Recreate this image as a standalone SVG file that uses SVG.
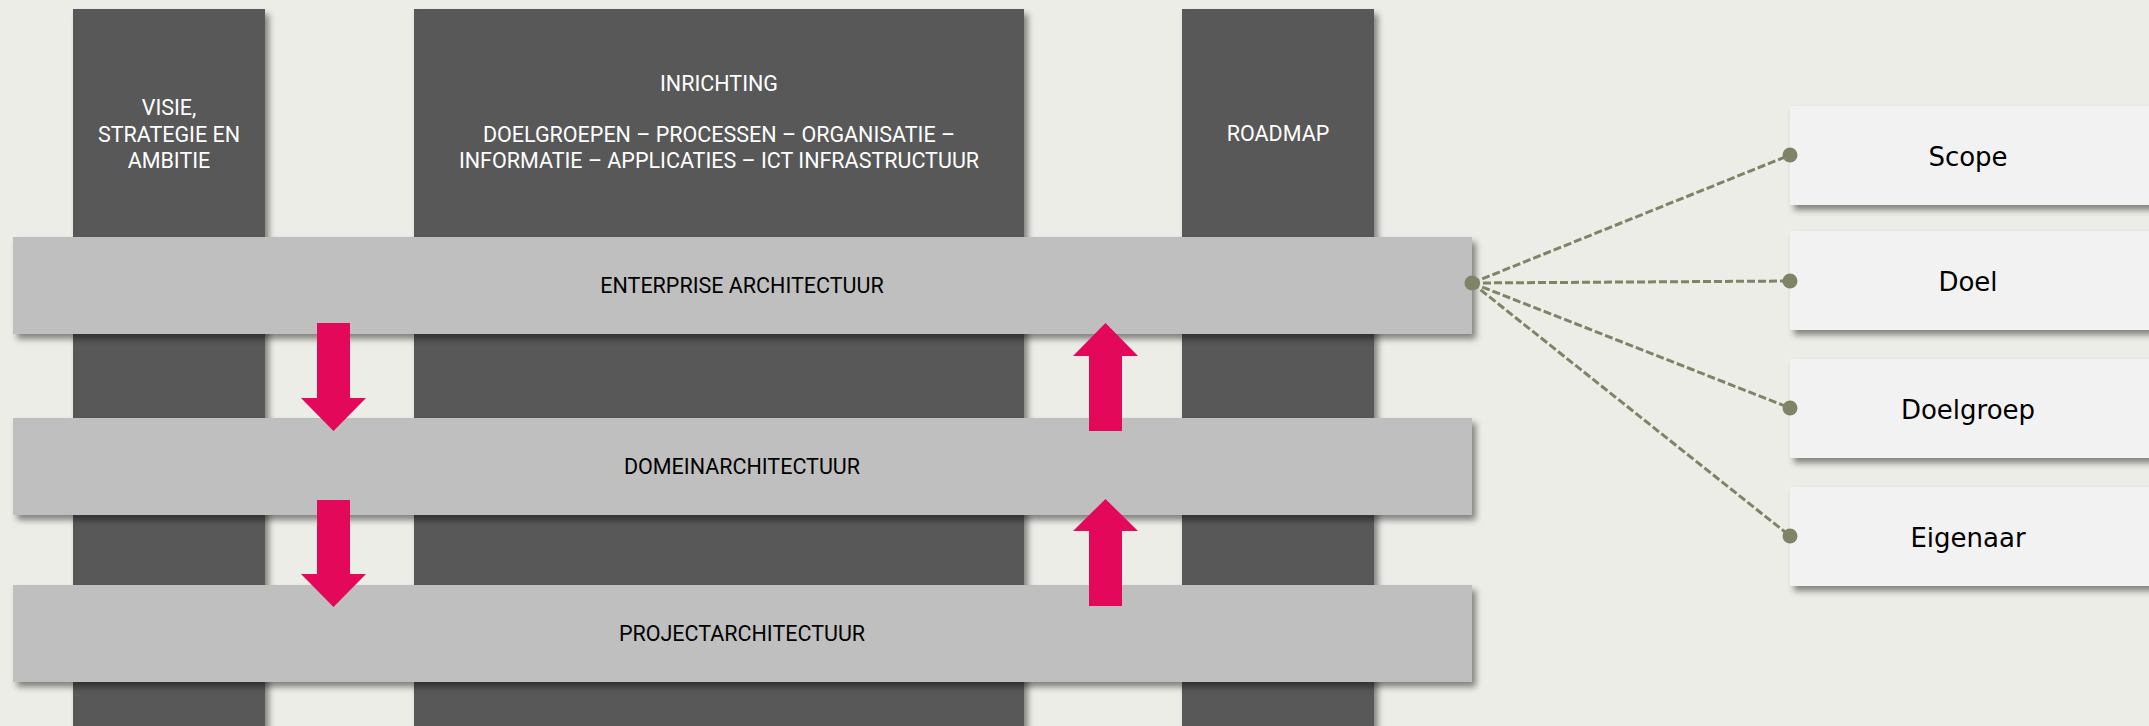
<svg xmlns="http://www.w3.org/2000/svg" width="2149" height="726" viewBox="0 0 2149 726">
<defs>
<filter id="sh" x="-10%" y="-10%" width="130%" height="140%">
<feDropShadow dx="4" dy="5" stdDeviation="3" flood-color="#000" flood-opacity="0.45"/>
</filter>
<style>
.col{fill:#595959;filter:url(#sh)}
.band{fill:#BFBFBF;filter:url(#sh)}
.box{fill:#F2F2F2;filter:url(#sh)}
.wt{font-family:Roboto,"Liberation Sans",sans-serif;font-size:21.5px;fill:#FFFFFF;text-anchor:middle}
.bt{font-family:Roboto,"Liberation Sans",sans-serif;font-size:21.5px;fill:#000000;text-anchor:middle}
.rt{font-family:"DejaVu Sans",Verdana,sans-serif;font-size:26px;fill:#000000;text-anchor:middle}
.arr{fill:#E4085A}
.ln{stroke:#7F8466;stroke-width:3;stroke-dasharray:8 3;fill:none}
.dot{fill:#7F8466}
</style>
</defs>
<rect width="2149" height="726" fill="#EDEDE7"/>
<g id="col-visie">
<rect class="col" x="73" y="9" width="192" height="730"/>
<text class="wt" x="169" y="115">VISIE,</text>
<text class="wt" x="169" y="142">STRATEGIE EN</text>
<text class="wt" x="169" y="168">AMBITIE</text>
</g>
<g id="col-inrichting">
<rect class="col" x="414" y="9" width="610" height="730"/>
<text class="wt" x="719" y="91">INRICHTING</text>
<text class="wt" x="719" y="142">DOELGROEPEN – PROCESSEN – ORGANISATIE –</text>
<text class="wt" x="719" y="168">INFORMATIE – APPLICATIES – ICT INFRASTRUCTUUR</text>
</g>
<g id="col-roadmap">
<rect class="col" x="1182" y="9" width="192" height="730"/>
<text class="wt" x="1278" y="141">ROADMAP</text>
</g>
<g id="band-enterprise">
<rect class="band" x="13" y="237" width="1459" height="97"/>
<text class="bt" x="742" y="293">ENTERPRISE ARCHITECTUUR</text>
</g>
<g id="band-domein">
<rect class="band" x="13" y="418" width="1459" height="97"/>
<text class="bt" x="742" y="474">DOMEINARCHITECTUUR</text>
</g>
<g id="band-project">
<rect class="band" x="13" y="585" width="1459" height="97"/>
<text class="bt" x="742" y="641">PROJECTARCHITECTUUR</text>
</g>
<g id="arrows">
<polygon class="arr" points="317,323 350,323 350,398 366,398 333.5,431 301,398 317,398"/>
<polygon class="arr" points="317,500 350,500 350,574 366,574 333.5,607 301,574 317,574"/>
<polygon class="arr" points="1089,431 1122,431 1122,356 1138,356 1105.5,323 1073,356 1089,356"/>
<polygon class="arr" points="1089,606 1122,606 1122,531 1138,531 1105.5,499 1073,531 1089,531"/>
</g>
<g id="box-scope">
<rect class="box" x="1790" y="106" width="365" height="99"/>
<text class="rt" x="1968" y="166">Scope</text>
</g>
<g id="box-doel">
<rect class="box" x="1790" y="231" width="365" height="99"/>
<text class="rt" x="1968" y="291">Doel</text>
</g>
<g id="box-doelgroep">
<rect class="box" x="1790" y="359" width="365" height="99"/>
<text class="rt" x="1968" y="419">Doelgroep</text>
</g>
<g id="box-eigenaar">
<rect class="box" x="1790" y="487" width="365" height="99"/>
<text class="rt" x="1968" y="547">Eigenaar</text>
</g>
<g id="connectors">
<line class="ln" x1="1472" y1="283" x2="1790" y2="155"/>
<line class="ln" x1="1472" y1="283" x2="1790" y2="281"/>
<line class="ln" x1="1472" y1="283" x2="1790" y2="408"/>
<line class="ln" x1="1472" y1="283" x2="1790" y2="536"/>
<circle class="dot" cx="1472" cy="283" r="7.5"/>
<circle class="dot" cx="1790" cy="155" r="7.5"/>
<circle class="dot" cx="1790" cy="281" r="7.5"/>
<circle class="dot" cx="1790" cy="408" r="7.5"/>
<circle class="dot" cx="1790" cy="536" r="7.5"/>
</g>
</svg>
